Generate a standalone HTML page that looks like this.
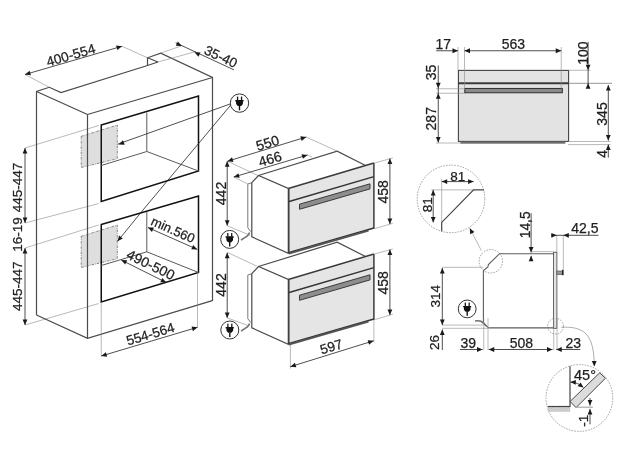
<!DOCTYPE html>
<html><head><meta charset="utf-8"><style>
html,body{margin:0;padding:0;background:#fff;}
svg{display:block;will-change:transform;}
text{font-family:"Liberation Sans",sans-serif;fill:#1e1e1e;stroke:#1e1e1e;stroke-width:0.25;text-anchor:middle;}
.o{stroke:#4a4a4a;stroke-width:1.2;fill:none;stroke-linejoin:miter;}
.k{stroke:#111;stroke-width:1.5;fill:none;}
.i{stroke:#5a5a5a;stroke-width:1;fill:none;}
.e{stroke:#8a8a8a;stroke-width:0.6;fill:none;}
.d{stroke:#222;stroke-width:0.8;fill:none;}
.gb{stroke:#6a6a6a;stroke-width:0.8;stroke-dasharray:2.4 1.1 0.7 1.1;fill:#dedede;}
.pc{stroke:#333;stroke-width:1;}
.dc{stroke:#8c8c8c;stroke-width:0.8;stroke-dasharray:1.6 1.2;fill:none;}
.fl{stroke:#777;stroke-width:1;fill:none;}
.pn{stroke:none;fill:#e5e5e5;}
.pt{stroke:#3a3a3a;stroke-width:1.5;fill:none;}
.ps{stroke:#333;stroke-width:1.5;fill:none;}
.pb{stroke:#555;stroke-width:1.8;fill:none;}
.hd{stroke:#2e2e2e;stroke-width:0.9;fill:#8e8e8e;}
.cord{stroke:#707070;stroke-width:1.5;fill:none;}
.sep{stroke:#3a3a3a;stroke-width:2;}
.ge{stroke:#aaa;stroke-width:1.2;}
.sv{stroke:#5c5c5c;stroke-width:1.1;fill:none;}
.dt{stroke:#444;stroke-width:1.2;fill:none;}
</style></head>
<body><svg width="625" height="452" viewBox="0 0 625 452">
<defs><pattern id="hatch" width="1.6" height="1.6" patternUnits="userSpaceOnUse" patternTransform="rotate(45)"><rect width="1.6" height="1.6" fill="#dedede"/><line x1="0" y1="0" x2="0" y2="1.6" stroke="#8a8a8a" stroke-width="0.7"/></pattern></defs>
<polygon points="81.2,136.3 117.3,125.1 117.3,158.7 81.2,167.5" class="gb"/>
<polygon points="81.2,236.3 117.3,225.1 117.3,258.7 81.2,267.5" class="gb"/>
<line x1="25" y1="148" x2="98.75" y2="125.5" class="e"/>
<line x1="25" y1="223" x2="98.75" y2="203.5" class="e"/>
<line x1="25" y1="248" x2="98.75" y2="225" class="e"/>
<line x1="25" y1="325" x2="98.75" y2="303.5" class="e"/>
<polyline points="36.5,315 36.5,91.5 49.3,87.3 61,92.5 147.5,65.5 158,62" class="o"/>
<polyline points="147.5,65.5 147.5,57.8 160.7,53.1 212.5,77.5 212.5,301" class="o"/>
<line x1="147.5" y1="57.8" x2="158" y2="62" class="o"/>
<line x1="36.5" y1="91.5" x2="87.5" y2="114.5" class="o"/>
<line x1="87.5" y1="114.5" x2="212.5" y2="77.5" class="o"/>
<line x1="87.5" y1="114.5" x2="87.5" y2="338.3" class="o"/>
<polyline points="36.5,315 87.5,338.3 212.3,300.6" class="o"/>
<polygon points="101.25,125 198.5,96 198.5,171 101.25,201.5" class="k"/>
<polyline points="101.25,165.5 146.8,151.5 198.5,171" class="i"/>
<line x1="146.8" y1="112.5" x2="146.8" y2="151.5" class="i"/>
<polygon points="101.25,224.5 198.5,196 198.5,272.5 101.25,302" class="k"/>
<polyline points="101.25,265.5 146.8,251.8 198.5,272.5" class="i"/>
<line x1="146.8" y1="212" x2="146.8" y2="251.8" class="i"/>
<line x1="25" y1="74.5" x2="49.3" y2="87.3" class="e"/>
<line x1="122" y1="46.25" x2="147.5" y2="57.8" class="e"/>
<line x1="25" y1="74.5" x2="122" y2="46.25" class="d"/>
<polygon points="25.00,74.50 29.61,70.66 30.95,75.27" fill="#1a1a1a"/>
<polygon points="122.00,46.25 117.39,50.09 116.05,45.48" fill="#1a1a1a"/>
<text transform="translate(70.7,55) rotate(-16.3)" y="4.90" font-size="13.7">400-554</text>
<line x1="160.7" y1="53.1" x2="181" y2="46" class="e"/>
<line x1="158" y1="62" x2="196" y2="51.5" class="e"/>
<line x1="175.7" y1="42.8" x2="234" y2="69.9" class="d"/>
<polygon points="181.80,46.00 175.80,45.79 177.88,41.46" fill="#1a1a1a"/>
<polygon points="194.50,52.20 200.50,52.38 198.45,56.72" fill="#1a1a1a"/>
<text transform="translate(221,56.5) rotate(25)" y="4.87" font-size="13.6">35-40</text>
<line x1="25" y1="148" x2="25" y2="223" class="d"/>
<polygon points="25.00,148.00 27.40,153.50 22.60,153.50" fill="#1a1a1a"/>
<polygon points="25.00,223.00 22.60,217.50 27.40,217.50" fill="#1a1a1a"/>
<polygon points="25.00,248.00 27.40,253.50 22.60,253.50" fill="#1a1a1a"/>
<line x1="25" y1="248" x2="25" y2="325" class="d"/>
<polygon points="25.00,325.00 22.60,319.50 27.40,319.50" fill="#1a1a1a"/>
<text transform="translate(17.5,187.4) rotate(-90)" y="4.83" font-size="13.5">445-447</text>
<text transform="translate(17.5,234.4) rotate(-90)" y="4.83" font-size="13.5">16-19</text>
<text transform="translate(17.5,286.3) rotate(-90)" y="4.83" font-size="13.5">445-447</text>
<line x1="147.9" y1="227.5" x2="197.3" y2="249.4" class="d"/>
<polygon points="147.90,227.50 153.90,227.53 151.96,231.92" fill="#1a1a1a"/>
<polygon points="197.30,249.40 191.30,249.37 193.24,244.98" fill="#1a1a1a"/>
<text transform="translate(173.1,229.6) rotate(24)" y="4.65" font-size="13">min.560</text>
<line x1="121.25" y1="260" x2="166.25" y2="282.5" class="d"/>
<polygon points="121.25,260.00 127.24,260.31 125.10,264.61" fill="#1a1a1a"/>
<polygon points="166.25,282.50 160.26,282.19 162.40,277.89" fill="#1a1a1a"/>
<text transform="translate(150.8,264.6) rotate(26)" y="5.01" font-size="14">490-500</text>
<line x1="101.25" y1="302" x2="101.25" y2="356" class="e"/>
<line x1="197.5" y1="272.5" x2="197.5" y2="327.5" class="e"/>
<line x1="101.25" y1="356" x2="197.5" y2="327.3" class="d"/>
<polygon points="101.25,356.00 105.83,352.13 107.21,356.73" fill="#1a1a1a"/>
<polygon points="197.50,327.30 192.92,331.17 191.54,326.57" fill="#1a1a1a"/>
<text transform="translate(150.3,333.9) rotate(-16.6)" y="4.83" font-size="13.5">554-564</text>
<line x1="230.75" y1="103.75" x2="117.5" y2="144.25" class="d"/>
<polygon points="118.70,144.40 122.95,140.17 124.70,144.64" fill="#1a1a1a"/>
<line x1="230.75" y1="105" x2="143" y2="210" class="d"/>
<circle cx="239.5" cy="103.1" r="9.2" class="pc" style="fill:#fff"/>
<rect x="236.90" y="96.60" width="1.30" height="3.60" fill="#111"/>
<rect x="240.90" y="96.60" width="1.30" height="3.60" fill="#111"/>
<polygon points="235.30,100.00 243.60,100.00 243.60,101.50 242.90,101.50 242.90,103.90 241.20,106.00 237.80,106.00 236.10,103.90 236.10,101.50 235.30,101.50" fill="#111"/>
<rect x="238.80" y="105.70" width="1.40" height="4.60" fill="#111"/>
<line x1="143" y1="210" x2="117.5" y2="241.25" class="d"/>
<polygon points="117.50,241.25 119.10,235.47 122.83,238.49" fill="#1a1a1a"/>
<polyline points="250.8,231.6 247.8,227.7 247.8,184 251.8,182.7" class="fl"/>
<polygon points="251.8,182.7 258.5,175.5 288.3,188.5 288.3,253.4 251.8,236.8" class="o" style="fill:#fff"/>
<polyline points="258.5,175.5 337.2,151.2 365.5,165.5" class="o"/>
<polygon points="288.3,188.5 373.9,163 373.9,228.7 288.3,253.4" class="pn"/>
<line x1="288.3" y1="188.5" x2="373.9" y2="163" class="pt"/>
<line x1="288.3" y1="201.8" x2="373.9" y2="176.6" class="ps"/>
<line x1="373.9" y1="163" x2="373.9" y2="228.7" class="pt"/>
<line x1="288.8" y1="188.5" x2="288.8" y2="253.4" class="pt"/>
<line x1="288.3" y1="252.6" x2="373.9" y2="228" class="ps"/>
<line x1="288.8" y1="253.6" x2="368.5" y2="230.6" class="pb"/>
<polygon points="299.5,204.2 370,183.8 370,188.9 299.5,209.3" class="hd"/>
<line x1="374.5" y1="163" x2="392.8" y2="158" class="e"/>
<line x1="374.5" y1="228.7" x2="392.8" y2="223.3" class="e"/>
<line x1="389.9" y1="158.4" x2="389.9" y2="224.1" class="d"/>
<polygon points="389.90,158.40 392.30,163.90 387.50,163.90" fill="#1a1a1a"/>
<polygon points="389.90,224.10 387.50,218.60 392.30,218.60" fill="#1a1a1a"/>
<text transform="translate(382.9,191.8) rotate(-90)" y="5.01" font-size="14">458</text>
<path d="M241.1,240.3 C243.5,237.5 248,237.5 249.6,232.5" class="cord"/>
<polyline points="250.8,322.6 247.8,318.7 247.8,275 251.8,273.7" class="fl"/>
<polygon points="251.8,273.7 258.5,266.5 288.3,279.5 288.3,344.4 251.8,327.8" class="o" style="fill:#fff"/>
<polyline points="258.5,266.5 337.2,242.2 365.5,256.5" class="o"/>
<polygon points="288.3,279.5 373.9,254 373.9,319.7 288.3,344.4" class="pn"/>
<line x1="288.3" y1="279.5" x2="373.9" y2="254" class="pt"/>
<line x1="288.3" y1="292.8" x2="373.9" y2="267.6" class="ps"/>
<line x1="373.9" y1="254" x2="373.9" y2="319.7" class="pt"/>
<line x1="288.8" y1="279.5" x2="288.8" y2="344.4" class="pt"/>
<line x1="288.3" y1="343.6" x2="373.9" y2="319" class="ps"/>
<line x1="288.8" y1="344.6" x2="368.5" y2="321.6" class="pb"/>
<polygon points="299.5,295.2 370,274.8 370,279.9 299.5,300.3" class="hd"/>
<line x1="374.5" y1="254" x2="392.8" y2="249" class="e"/>
<line x1="374.5" y1="319.7" x2="392.8" y2="314.3" class="e"/>
<line x1="389.9" y1="249.4" x2="389.9" y2="315.1" class="d"/>
<polygon points="389.90,249.40 392.30,254.90 387.50,254.90" fill="#1a1a1a"/>
<polygon points="389.90,315.10 387.50,309.60 392.30,309.60" fill="#1a1a1a"/>
<text transform="translate(382.9,282.8) rotate(-90)" y="5.01" font-size="14">458</text>
<path d="M241.1,331.3 C243.5,328.5 248,328.5 249.6,323.5" class="cord"/>
<line x1="227.5" y1="161.25" x2="257.9" y2="175.5" class="e"/>
<line x1="306.25" y1="137" x2="337.2" y2="151.2" class="e"/>
<line x1="227.5" y1="161.25" x2="306.25" y2="137" class="d"/>
<polygon points="227.50,161.25 232.05,157.34 233.46,161.93" fill="#1a1a1a"/>
<polygon points="306.25,137.00 301.70,140.91 300.29,136.32" fill="#1a1a1a"/>
<text transform="translate(267.5,142.9) rotate(-17)" y="5.01" font-size="14">550</text>
<line x1="233.75" y1="177" x2="247.8" y2="184" class="e"/>
<line x1="307.5" y1="155" x2="312" y2="157" class="e"/>
<line x1="233.75" y1="177" x2="307.5" y2="155" class="d"/>
<polygon points="233.75,177.00 238.33,173.13 239.71,177.73" fill="#1a1a1a"/>
<polygon points="307.50,155.00 302.92,158.87 301.54,154.27" fill="#1a1a1a"/>
<text transform="translate(270,158.75) rotate(-17)" y="5.01" font-size="14">466</text>
<line x1="227.2" y1="161.25" x2="227.2" y2="225.8" class="d"/>
<polygon points="227.20,225.80 224.80,220.30 229.60,220.30" fill="#1a1a1a"/>
<polygon points="227.20,161.25 229.60,166.75 224.80,166.75" fill="#1a1a1a"/>
<line x1="227.2" y1="252.7" x2="227.2" y2="317.9" class="d"/>
<polygon points="227.20,252.70 229.60,258.20 224.80,258.20" fill="#1a1a1a"/>
<polygon points="227.20,317.90 224.80,312.40 229.60,312.40" fill="#1a1a1a"/>
<text transform="translate(221.25,193.5) rotate(-90)" y="5.01" font-size="14">442</text>
<text transform="translate(221.25,285) rotate(-90)" y="5.01" font-size="14">442</text>
<line x1="227.2" y1="225.8" x2="250.3" y2="235.4" class="e"/>
<line x1="227.2" y1="252.3" x2="256.5" y2="266" class="e"/>
<line x1="227.2" y1="317.9" x2="249.4" y2="326" class="e"/>
<circle cx="229.7" cy="239.4" r="9.0" class="pc" style="fill:#fff"/>
<rect x="227.16" y="233.04" width="1.27" height="3.52" fill="#111"/>
<rect x="231.07" y="233.04" width="1.27" height="3.52" fill="#111"/>
<polygon points="225.59,236.37 233.71,236.37 233.71,237.83 233.03,237.83 233.03,240.18 231.36,242.24 228.04,242.24 226.37,240.18 226.37,237.83 225.59,237.83" fill="#111"/>
<rect x="229.02" y="241.94" width="1.37" height="4.50" fill="#111"/>
<circle cx="229.8" cy="330" r="9.0" class="pc" style="fill:#fff"/>
<rect x="227.26" y="323.64" width="1.27" height="3.52" fill="#111"/>
<rect x="231.17" y="323.64" width="1.27" height="3.52" fill="#111"/>
<polygon points="225.69,326.97 233.81,326.97 233.81,328.43 233.13,328.43 233.13,330.78 231.46,332.84 228.14,332.84 226.47,330.78 226.47,328.43 225.69,328.43" fill="#111"/>
<rect x="229.12" y="332.54" width="1.37" height="4.50" fill="#111"/>
<line x1="290.4" y1="345" x2="290.4" y2="368.5" class="e"/>
<line x1="373.9" y1="320" x2="373.9" y2="342.5" class="e"/>
<line x1="290.4" y1="366.7" x2="373.6" y2="340.8" class="d"/>
<polygon points="290.40,366.70 294.94,362.77 296.36,367.36" fill="#1a1a1a"/>
<polygon points="373.60,340.80 369.06,344.73 367.64,340.14" fill="#1a1a1a"/>
<text transform="translate(331.2,346.6) rotate(-17)" y="4.87" font-size="13.6">597</text>
<rect x="458.4" y="70.4" width="110.2" height="71" fill="#e3e3e3" stroke="#444" stroke-width="1.1"/>
<rect x="460.3" y="141.6" width="105" height="2.1" fill="#6e6e6e"/>
<line x1="458" y1="83.3" x2="568.6" y2="83.3" class="sep"/>
<line x1="569" y1="83.3" x2="612" y2="83.3" class="ge"/>
<rect x="464.8" y="88.4" width="97.5" height="4.4" fill="#8a8a8a" stroke="#222" stroke-width="0.9"/>
<line x1="458" y1="47" x2="458" y2="70" class="e"/>
<line x1="464.5" y1="47" x2="464.5" y2="88.75" class="e"/>
<line x1="561.25" y1="47" x2="561.25" y2="88.75" class="e"/>
<line x1="436.25" y1="50.75" x2="458" y2="50.75" class="d"/>
<polygon points="458.00,50.75 452.50,53.15 452.50,48.35" fill="#1a1a1a"/>
<line x1="464.5" y1="50.75" x2="561.25" y2="50.75" class="d"/>
<polygon points="464.50,50.75 470.00,48.35 470.00,53.15" fill="#1a1a1a"/>
<polygon points="561.25,50.75 555.75,53.15 555.75,48.35" fill="#1a1a1a"/>
<text transform="translate(443.3,43.75) rotate(0)" y="5.00" font-size="14">17</text>
<text transform="translate(513.3,43.75) rotate(0)" y="5.00" font-size="14">563</text>
<line x1="436" y1="88.75" x2="465" y2="88.75" class="e"/>
<line x1="436" y1="93.25" x2="465" y2="93.25" class="e"/>
<line x1="436" y1="143" x2="460" y2="143" class="e"/>
<line x1="438.25" y1="65.5" x2="438.25" y2="93.25" class="d"/>
<polygon points="438.25,88.20 435.85,82.70 440.65,82.70" fill="#1a1a1a"/>
<line x1="438.25" y1="93.25" x2="438.25" y2="142.5" class="d"/>
<polygon points="438.25,93.25 440.65,98.75 435.85,98.75" fill="#1a1a1a"/>
<polygon points="438.25,142.50 435.85,137.00 440.65,137.00" fill="#1a1a1a"/>
<text transform="translate(431.25,72.5) rotate(-90)" y="5.01" font-size="14">35</text>
<text transform="translate(431.25,118.75) rotate(-90)" y="5.01" font-size="14">287</text>
<line x1="568" y1="70.3" x2="590.6" y2="70.3" class="e"/>
<line x1="568" y1="141.5" x2="610.7" y2="141.5" class="e"/>
<line x1="568" y1="144.6" x2="610.7" y2="144.6" class="e"/>
<line x1="588.1" y1="41.8" x2="588.1" y2="70.3" class="d"/>
<polygon points="588.10,70.30 585.70,64.80 590.50,64.80" fill="#1a1a1a"/>
<line x1="588.1" y1="70.3" x2="588.1" y2="86" class="d"/>
<polygon points="588.10,83.30 590.50,88.80 585.70,88.80" fill="#1a1a1a"/>
<text transform="translate(582.9,53.1) rotate(-90)" y="5.01" font-size="14">100</text>
<line x1="608.3" y1="85.1" x2="608.3" y2="140.6" class="d"/>
<polygon points="608.30,85.10 610.70,90.60 605.90,90.60" fill="#1a1a1a"/>
<polygon points="608.30,140.60 605.90,135.10 610.70,135.10" fill="#1a1a1a"/>
<text transform="translate(601.5,114) rotate(-90)" y="5.01" font-size="14">345</text>
<line x1="608.3" y1="144.6" x2="608.3" y2="157.6" class="d"/>
<polygon points="608.30,144.60 610.70,150.10 605.90,150.10" fill="#1a1a1a"/>
<text transform="translate(601.5,153.9) rotate(-90)" y="5.01" font-size="14">4</text>
<circle cx="451" cy="198.9" r="33.8" class="dc" style="fill:none"/>
<line x1="431.3" y1="189.9" x2="473.6" y2="189.9" class="e"/>
<line x1="441.7" y1="179" x2="441.7" y2="222.4" class="e"/>
<polyline points="441.7,231.2 441.7,222.4 473.6,189.9 484,189.9" class="dt"/>
<line x1="441.7" y1="181.6" x2="473.6" y2="181.6" class="d"/>
<polygon points="441.70,181.60 447.20,179.20 447.20,184.00" fill="#1a1a1a"/>
<polygon points="473.60,181.60 468.10,184.00 468.10,179.20" fill="#1a1a1a"/>
<text transform="translate(457.8,175.9) rotate(0)" y="4.83" font-size="13.5">81</text>
<line x1="433.2" y1="189.9" x2="433.2" y2="222.4" class="d"/>
<polygon points="433.20,189.90 435.60,195.40 430.80,195.40" fill="#1a1a1a"/>
<polygon points="433.20,222.40 430.80,216.90 435.60,216.90" fill="#1a1a1a"/>
<text transform="translate(427.4,204.8) rotate(-90)" y="4.83" font-size="13.5">81</text>
<circle cx="490.8" cy="261.3" r="11.7" class="dc" style="fill:none"/>
<circle cx="555.5" cy="326.2" r="7.9" class="dc" style="fill:none"/>
<polyline points="488.6,327.9 483.4,323 483.4,270.5 487.9,267 488.4,264.5 499.6,253.7 553.8,253.7" class="sv"/>
<line x1="488.6" y1="327.9" x2="553.8" y2="327.9" class="sv"/>
<rect x="553.4" y="252.2" width="3.5" height="76.1" fill="#e4e4e4" stroke="#444" stroke-width="0.8"/>
<rect x="556.8" y="271" width="5.6" height="3.6" fill="#999" stroke="#444" stroke-width="0.6"/>
<rect x="562" y="269.8" width="1.6" height="5.4" fill="#222"/>
<line x1="481.3" y1="250.5" x2="469.8" y2="228.2" class="e"/>
<polygon points="469.80,228.20 474.44,232.00 470.17,234.19" fill="#1a1a1a"/>
<line x1="531.1" y1="213.2" x2="531.1" y2="252.6" class="d"/>
<polygon points="531.10,252.60 528.70,247.10 533.50,247.10" fill="#1a1a1a"/>
<line x1="531.1" y1="255.8" x2="531.1" y2="258.9" class="d"/>
<polygon points="531.10,255.80 533.50,261.30 528.70,261.30" fill="#1a1a1a"/>
<line x1="531" y1="251.6" x2="553" y2="251.6" class="e"/>
<text transform="translate(524.7,224.8) rotate(-90)" y="4.94" font-size="13.8">14,5</text>
<line x1="556.8" y1="235.5" x2="556.8" y2="252" class="e"/>
<line x1="563.3" y1="235.5" x2="563.3" y2="270" class="e"/>
<line x1="551" y1="235.3" x2="598.5" y2="235.3" class="d"/>
<polygon points="556.80,235.30 551.30,237.70 551.30,232.90" fill="#1a1a1a"/>
<polygon points="563.30,235.30 568.80,232.90 568.80,237.70" fill="#1a1a1a"/>
<text transform="translate(584.9,227.7) rotate(0)" y="5.01" font-size="14">42,5</text>
<line x1="442" y1="267.3" x2="483.4" y2="267.3" class="e"/>
<line x1="442" y1="325.1" x2="483.4" y2="325.1" class="e"/>
<line x1="442" y1="328.3" x2="488.6" y2="328.3" class="e"/>
<line x1="442.3" y1="268" x2="442.3" y2="325" class="d"/>
<polygon points="442.30,268.00 444.70,273.50 439.90,273.50" fill="#1a1a1a"/>
<polygon points="442.30,325.00 439.90,319.50 444.70,319.50" fill="#1a1a1a"/>
<text transform="translate(435,296.2) rotate(-90)" y="4.83" font-size="13.5">314</text>
<line x1="442.3" y1="329.5" x2="442.3" y2="350" class="d"/>
<polygon points="442.30,329.50 444.70,335.00 439.90,335.00" fill="#1a1a1a"/>
<text transform="translate(433.75,342.5) rotate(-90)" y="4.83" font-size="13.5">26</text>
<circle cx="467.2" cy="308.9" r="8.9" class="pc" style="fill:#fff"/>
<rect x="464.68" y="302.61" width="1.26" height="3.48" fill="#111"/>
<rect x="468.55" y="302.61" width="1.26" height="3.48" fill="#111"/>
<polygon points="463.14,305.90 471.17,305.90 471.17,307.35 470.49,307.35 470.49,309.67 468.84,311.71 465.56,311.71 463.91,309.67 463.91,307.35 463.14,307.35" fill="#111"/>
<rect x="466.52" y="311.42" width="1.35" height="4.45" fill="#111"/>
<path d="M475,320.9 C480,320 482,321 486.5,326.2" class="cord"/>
<line x1="483.75" y1="318" x2="483.75" y2="350" class="e"/>
<line x1="488" y1="318" x2="488" y2="350" class="e"/>
<line x1="553.75" y1="318" x2="553.75" y2="350" class="e"/>
<line x1="557" y1="318" x2="557" y2="350" class="e"/>
<line x1="460" y1="349.5" x2="482.5" y2="349.5" class="d"/>
<polygon points="482.50,349.50 477.00,351.90 477.00,347.10" fill="#1a1a1a"/>
<line x1="488.75" y1="349.5" x2="552.5" y2="349.5" class="d"/>
<polygon points="488.75,349.50 494.25,347.10 494.25,351.90" fill="#1a1a1a"/>
<polygon points="552.50,349.50 547.00,351.90 547.00,347.10" fill="#1a1a1a"/>
<line x1="556.25" y1="349.5" x2="580.3" y2="349.5" class="d"/>
<polygon points="556.25,349.50 561.75,347.10 561.75,351.90" fill="#1a1a1a"/>
<text transform="translate(468.3,342.8) rotate(0)" y="5.01" font-size="14">39</text>
<text transform="translate(521.3,342.8) rotate(0)" y="5.01" font-size="14">508</text>
<text transform="translate(573.2,342.8) rotate(0)" y="5.01" font-size="14">23</text>
<path d="M561.3,327.3 C585,326 594,335 594.3,366" class="e" style="stroke:#777"/>
<polygon points="594.30,366.50 591.82,361.04 596.62,360.96" fill="#1a1a1a"/>
<circle cx="579.4" cy="398" r="33.4" class="dc" style="fill:none"/>
<rect x="547.8" y="406.2" width="22.4" height="5.6" fill="url(#hatch)"/>
<line x1="547.8" y1="406.5" x2="570.4" y2="406.5" class="dt"/>
<line x1="570" y1="366.2" x2="570" y2="406.5" class="dt"/>
<polygon points="570,401.5 576.1,407.6 605.4,378.3 599.8,372.7" fill="#dcdcdc" stroke="#333" stroke-width="0.9"/>
<text transform="translate(585,375.2) rotate(0)" y="5.19" font-size="14.5">45°</text>
<path d="M570.6,382.1 A19.4,19.4 0 0 1 583.3,387.4" class="d"/>
<polygon points="570.30,382.10 575.92,379.99 575.67,384.79" fill="#1a1a1a"/>
<polygon points="583.50,387.60 577.66,386.22 580.54,382.38" fill="#1a1a1a"/>
<line x1="575.6" y1="407.2" x2="592.9" y2="407.2" class="ge"/>
<line x1="590" y1="398" x2="590" y2="405.6" class="d"/>
<polygon points="590.00,405.60 587.60,400.10 592.40,400.10" fill="#1a1a1a"/>
<line x1="590" y1="408.9" x2="590" y2="424.3" class="d"/>
<polygon points="590.00,408.90 592.40,414.40 587.60,414.40" fill="#1a1a1a"/>
<text transform="translate(583,420.8) rotate(-90)" y="4.83" font-size="13.5">-1</text>
</svg></body></html>
